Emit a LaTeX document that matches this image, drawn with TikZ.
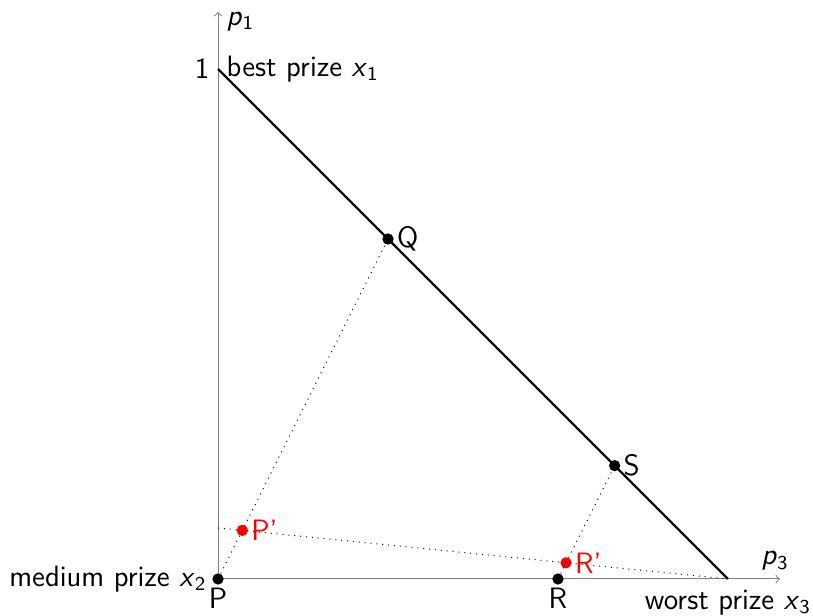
\documentclass[tikz,border=0pt]{standalone}
\usetikzlibrary{calc}
\newcommand{\pvar}[2]{\textit{#1}\textsubscript{#2}}

\begin{document}
\begin{tikzpicture}[x=7.3cm,y=7.3cm,font=\sffamily\fontsize{12}{14}\selectfont]
  \tikzset{
    axis/.style={->,gray,thin},
    edge/.style={line width=0.9pt},
    aux/.style={dotted,thin},
    dot/.style={circle,fill,inner sep=0pt,minimum size=4.6pt},
    rdot/.style={dot,red}
  }
  \useasboundingbox (-0.4275,-0.0725) rectangle (1.1667,1.1353);

  % axes
  \coordinate (O) at (0,0);
  \coordinate (top) at (0,1.112);
  \coordinate (right) at (1.102,0);
  \draw[axis] (O) -- (top);
  \draw[axis] (O) -- (right);
  \node[right,yshift=-4pt] (p1) at (top) {\pvar{p}{1}};
  \node[above,xshift=-2pt] (p3) at (right) {\pvar{p}{3}};

  % simplex edge
  \coordinate (best) at (0,1);
  \coordinate (worst) at (1,0);
  \coordinate (base) at (0,0.1);
  \draw[edge] (best) -- (worst);
  \node[left] (one) at (best) {1};
  \node[right] (bestlab) at (best) {best prize \pvar{x}{1}};
  \node[below,yshift=-1pt] (worstlab) at (worst) {worst prize \pvar{x}{3}};

  % lotteries
  \node[dot] (P) at (0,0) {};
  \node[dot] (Q) at (1/3,2/3) {};
  \node[dot] (R) at (2/3,0) {};
  \node[dot] (S) at (7/9,2/9) {};
  \node[rdot] (Pp) at (0.0476,0.0952) {};
  \node[rdot] (Rp) at (0.6825,0.0317) {};

  \draw[aux] (P) -- (Q);
  \draw[aux] (R) -- (S);
  \draw[aux] (base) -- (worst);

  \node[left,inner sep=2pt] (medlab) at (P.west) {medium prize \pvar{x}{2}};
  \node[below,inner sep=1pt] (Plab) at (P.south) {P};
  \node[below,inner sep=1pt] (Rlab) at (R.south) {R};
  \node[right,inner sep=1pt] (Qlab) at (Q.east) {Q};
  \node[right,inner sep=1pt] (Slab) at (S.east) {S};
  \node[right,inner sep=1pt,red] (Pplab) at (Pp.east) {P'};
  \node[right,inner sep=1pt,red] (Rplab) at (Rp.east) {R'};
\end{tikzpicture}
\end{document}
